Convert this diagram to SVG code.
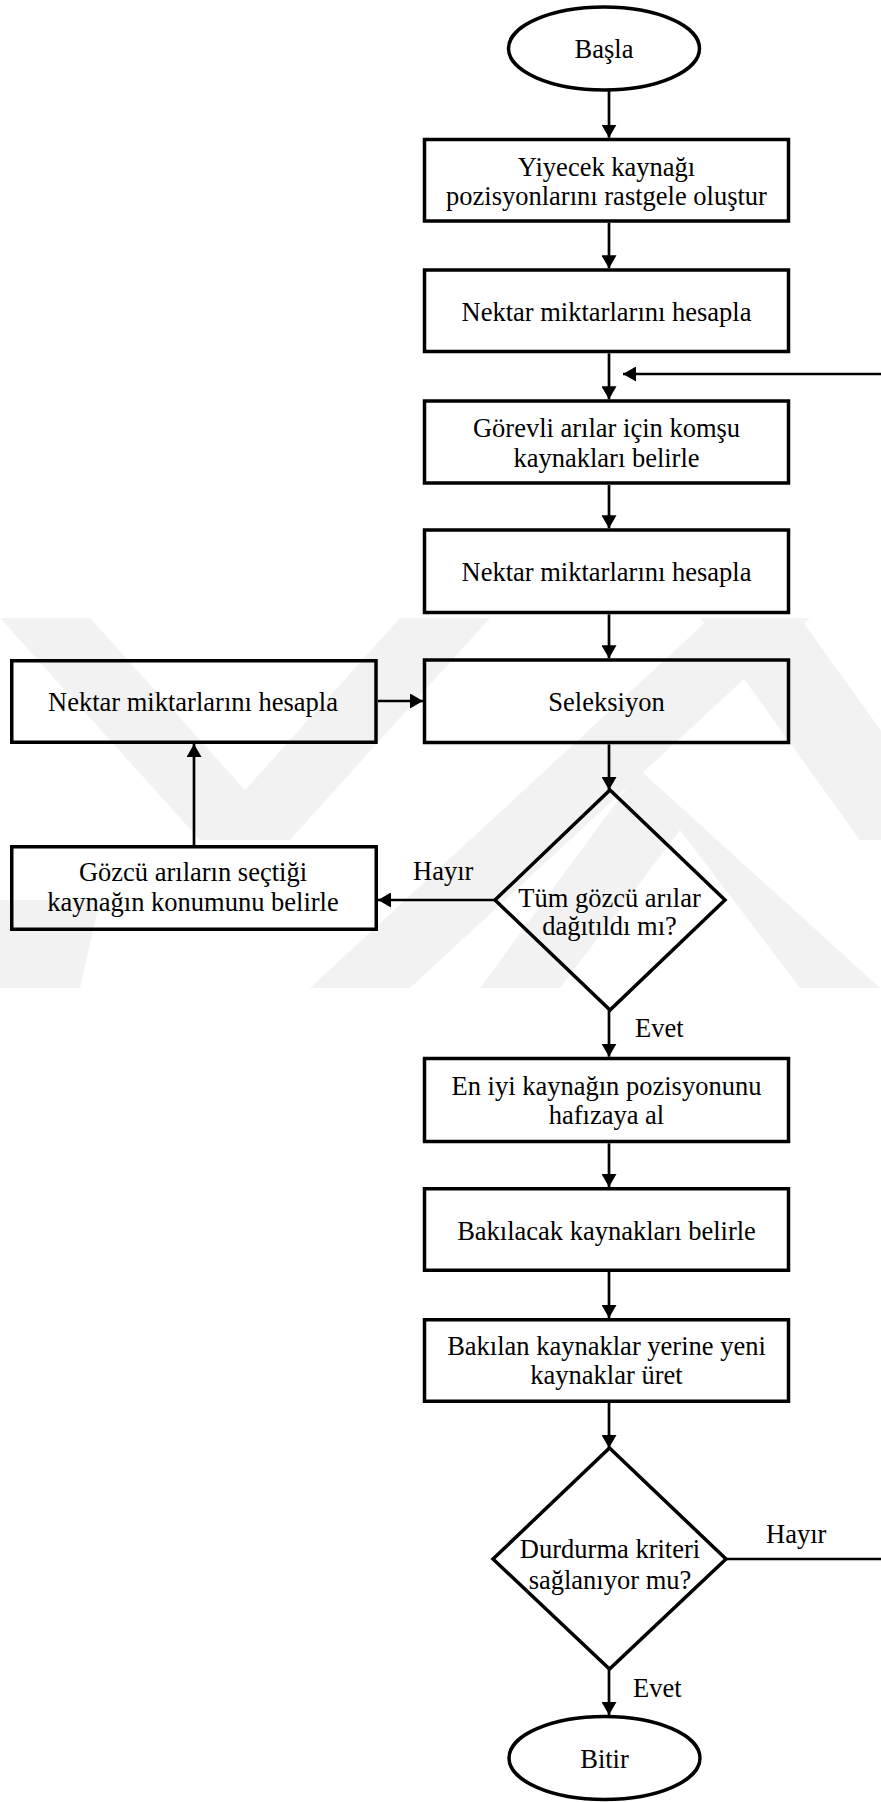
<svg xmlns="http://www.w3.org/2000/svg" width="881" height="1802" viewBox="0 0 881 1802">
<style>
.shape{fill:none;stroke:#000;stroke-width:3.5}
.conn{fill:none;stroke:#000;stroke-width:2.7}
.t{font-size:26.5px;fill:#000}
.c{text-anchor:middle}
.wm{fill:#f2f2f2}
</style>
<defs>
<marker id="arr" viewBox="0 0 13 15" refX="13" refY="7.5" markerWidth="13" markerHeight="15" markerUnits="userSpaceOnUse" orient="auto">
<path d="M0,0 L13,7.5 L0,15 z" fill="#000"/>
</marker>
<clipPath id="wmclip"><rect x="0" y="618" width="881" height="370"/></clipPath>
</defs>
<rect x="0" y="0" width="881" height="1802" fill="#fff"/>
<g id="watermark" clip-path="url(#wmclip)">
<polygon class="wm" points="0,618 90,618 290,840 200,840"/>
<polygon class="wm" points="200,840 290,840 490,618 400,618"/>
<polygon class="wm" points="310,988 410,988 810,618 710,618"/>
<polygon class="wm" points="480,988 560,988 680,830 640,770"/>
<polygon class="wm" points="640,770 680,830 800,988 880,988"/>
<polygon class="wm" points="700,618 800,618 960,840 860,840"/>
<polygon class="wm" points="0,900 0,988 80,988 100,900"/>
</g>
<g font-family="'Liberation Serif', Tinos, 'Times New Roman', Times, 'Noto Serif', 'DejaVu Serif', serif">
<g id="connectors">
<path class="conn" d="M609,91 V137.7" marker-end="url(#arr)"/>
<path class="conn" d="M609,222.7 V268.3" marker-end="url(#arr)"/>
<path class="conn" d="M609,353.3 V399.3" marker-end="url(#arr)"/>
<path class="conn" d="M609,485 V528.3" marker-end="url(#arr)"/>
<path class="conn" d="M609,614.3 V658.3" marker-end="url(#arr)"/>
<path class="conn" d="M609,744.3 V790" marker-end="url(#arr)"/>
<path class="conn" d="M609,1010 V1056.7" marker-end="url(#arr)"/>
<path class="conn" d="M609,1143.3 V1187" marker-end="url(#arr)"/>
<path class="conn" d="M609,1272 V1318" marker-end="url(#arr)"/>
<path class="conn" d="M609,1403 V1448" marker-end="url(#arr)"/>
<path class="conn" d="M609,1669 V1715" marker-end="url(#arr)"/>
<path class="conn" d="M495,900 H378" marker-end="url(#arr)"/>
<path class="conn" d="M194,845 V744" marker-end="url(#arr)"/>
<path class="conn" d="M378,701 H423" marker-end="url(#arr)"/>
<path class="conn" d="M726,1559 H884 V374 H623" marker-end="url(#arr)"/>
<text class="t" x="413" y="880">Hayır</text>
<text class="t" x="635" y="1037">Evet</text>
<text class="t" x="766" y="1543">Hayır</text>
<text class="t" x="633" y="1697">Evet</text>
</g>
<g id="start">
<ellipse class="shape" cx="604" cy="48.5" rx="95.5" ry="41.5"/>
<text class="t c" x="604" y="58">Başla</text>
</g>
<g id="init">
<rect class="shape" x="424.5" y="139.5" width="364" height="81.5"/>
<text class="t c" x="606.5" y="176">Yiyecek kaynağı</text>
<text class="t c" x="606.5" y="205">pozisyonlarını rastgele oluştur</text>
</g>
<g id="nectar1">
<rect class="shape" x="424.5" y="270" width="364" height="81.5"/>
<text class="t c" x="606.5" y="321">Nektar miktarlarını hesapla</text>
</g>
<g id="employed">
<rect class="shape" x="424.5" y="401" width="364" height="82"/>
<text class="t c" x="606.5" y="437">Görevli arılar için komşu</text>
<text class="t c" x="606.5" y="467">kaynakları belirle</text>
</g>
<g id="nectar2">
<rect class="shape" x="424.5" y="530" width="364" height="82.5"/>
<text class="t c" x="606.5" y="581">Nektar miktarlarını hesapla</text>
</g>
<g id="selection">
<rect class="shape" x="424.5" y="660" width="364" height="82.5"/>
<text class="t c" x="606.5" y="711">Seleksiyon</text>
</g>
<g id="nectar3">
<rect class="shape" x="11.75" y="660.75" width="364.25" height="81.5"/>
<text class="t c" x="193" y="711">Nektar miktarlarını hesapla</text>
</g>
<g id="onlooker">
<rect class="shape" x="11.75" y="846.75" width="364.5" height="82.5"/>
<text class="t c" x="193" y="881">Gözcü arıların seçtiği</text>
<text class="t c" x="193" y="911">kaynağın konumunu belirle</text>
</g>
<g id="decision1">
<polygon class="shape" points="610,790 725,900 610,1010 495,900"/>
<text class="t c" x="609.5" y="907">Tüm gözcü arılar</text>
<text class="t c" x="609.5" y="935">dağıtıldı mı?</text>
</g>
<g id="memorize">
<rect class="shape" x="424.5" y="1058.5" width="364" height="83"/>
<text class="t c" x="606.5" y="1095">En iyi kaynağın pozisyonunu</text>
<text class="t c" x="606.5" y="1124">hafızaya al</text>
</g>
<g id="scouts">
<rect class="shape" x="424.5" y="1188.75" width="364" height="81.5"/>
<text class="t c" x="606.5" y="1240">Bakılacak kaynakları belirle</text>
</g>
<g id="newsources">
<rect class="shape" x="424.5" y="1319.75" width="364" height="81.5"/>
<text class="t c" x="606.5" y="1355">Bakılan kaynaklar yerine yeni</text>
<text class="t c" x="606.5" y="1384">kaynaklar üret</text>
</g>
<g id="decision2">
<polygon class="shape" points="609.5,1448 726,1559 609.5,1669 493,1559"/>
<text class="t c" x="610" y="1558">Durdurma kriteri</text>
<text class="t c" x="610" y="1589">sağlanıyor mu?</text>
</g>
<g id="end">
<ellipse class="shape" cx="604.5" cy="1758" rx="95.5" ry="41.5"/>
<text class="t c" x="604.5" y="1768">Bitir</text>
</g>
</g>
</svg>
